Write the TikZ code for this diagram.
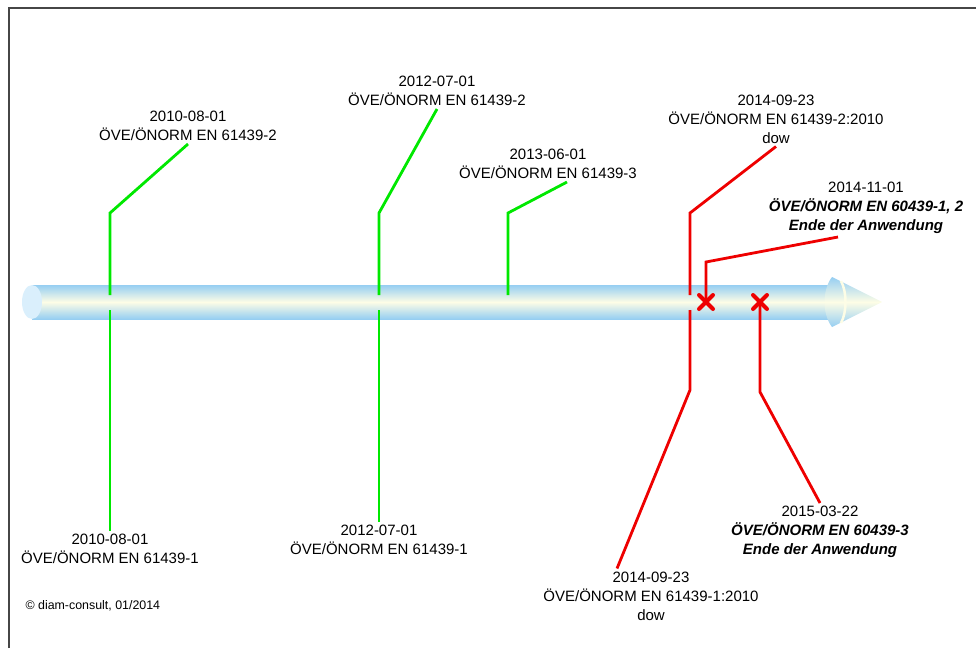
\documentclass[tikz,border=0pt]{standalone}
\usepackage{fontspec}
\setmainfont{Liberation Sans}
\usepackage{tikz}
\usetikzlibrary{calc}
\definecolor{tubeblue}{RGB}{150,206,242}
\definecolor{tubecream}{RGB}{253,253,230}
\definecolor{capblue}{RGB}{218,239,252}
\definecolor{markgreen}{RGB}{0,232,0}
\definecolor{markred}{RGB}{238,0,0}
\definecolor{framegray}{RGB}{70,70,70}

\begin{document}
\begin{tikzpicture}[x=1pt,y=-1pt]
        \tikzset{tag/.style={align=center, font=\fontsize{15}{19}\selectfont, inner sep=3pt},
                 greenline/.style={markgreen, line width=2.8pt},
                 redline/.style={markred, line width=2.8pt},
                 endmark/.style={markred, line width=4pt, line cap=round}}
        \useasboundingbox (0,0) rectangle (976,648);
        % frame
        \draw[framegray, line width=1.3pt] (9,648) -- (9,8) -- (976,8);
        
        % time tube
        \shade[top color=tubeblue, bottom color=tubeblue, middle color=tubecream] (32,285) rectangle (830,319);
        \fill[capblue] (32,302) ellipse [x radius=10, y radius=17];
        \shade[top color=tubeblue, bottom color=tubeblue, middle color=tubecream]
            (832,277) .. controls (822,290) and (822,314) .. (832,327) -- (882,302) -- cycle;
        \draw[tubecream, line width=2.5pt] (841,281) .. controls (847,292) and (847,312) .. (841,323);
        
        % labels above the tube
        \node[tag] (up1) at (188,126) {2010-08-01\\ÖVE/ÖNORM EN 61439-2};
        \node[tag] (up2) at (437,91) {2012-07-01\\ÖVE/ÖNORM EN 61439-2};
        \node[tag] (up3) at (548,164) {2013-06-01\\ÖVE/ÖNORM EN 61439-3};
        \node[tag] (up4) at (776,119) {2014-09-23\\ÖVE/ÖNORM EN 61439-2:2010\\dow};
        \node[tag] (up5) at (866,208) {2014-11-01\\\textbf{\textit{ÖVE/ÖNORM EN 60439-1, 2}}\\\textbf{\textit{Ende der Anwendung}}};
        
        % labels below the tube
        \node[tag] (lo1) at (110,549) {2010-08-01\\ÖVE/ÖNORM EN 61439-1};
        \node[tag] (lo2) at (379,540) {2012-07-01\\ÖVE/ÖNORM EN 61439-1};
        \node[tag] (lo4) at (651,596) {2014-09-23\\ÖVE/ÖNORM EN 61439-1:2010\\dow};
        \node[tag] (lo6) at (820,532) {2015-03-22\\\textbf{\textit{ÖVE/ÖNORM EN 60439-3}}\\\textbf{\textit{Ende der Anwendung}}};
        
        \node[anchor=west, font=\fontsize{12.4}{14}\selectfont] (copy) at (22,606) {© diam-consult, 01/2014};
        
        % bends and tube points
        \coordinate (b1) at (110,213); \coordinate (t1) at (110,295); \coordinate (s1) at (110,310);
        \coordinate (b2) at (379,213); \coordinate (t2) at (379,295); \coordinate (s2) at (379,310);
        \coordinate (b3) at (508,213); \coordinate (t3) at (508,295);
        \coordinate (b4) at (690,213); \coordinate (t4) at (690,295); \coordinate (s4) at (690,310);
        \coordinate (k4) at (690,390);
        \coordinate (b5) at (706,262); \coordinate (x5) at (706,302);
        \coordinate (x6) at (760,302); \coordinate (k6) at (760,392);
        
        % green markers
        \draw[greenline] (up1.south) -- (b1) -- (t1);
        \draw[greenline] (s1) -- (lo1.north);
        \draw[greenline] (up2.south) -- (b2) -- (t2);
        \draw[greenline] (s2) -- (lo2.north);
        \draw[greenline] ([xshift=19pt]up3.south) -- (b3) -- (t3);
        
        % red markers
        \draw[redline] (up4.south) -- (b4) -- (t4);
        \draw[redline] (s4) -- (k4) -- ([xshift=-34pt]lo4.north);
        \draw[redline] ([xshift=-28pt]up5.south) -- (b5) -- (x5);
        \draw[redline] (x6) -- (k6) -- (lo6.north);
        
        \draw[endmark] ($(x5)+(-7,-7)$) -- ($(x5)+(7,7)$);
        \draw[endmark] ($(x5)+(-7,7)$) -- ($(x5)+(7,-7)$);
        \draw[endmark] ($(x6)+(-7,-7)$) -- ($(x6)+(7,7)$);
        \draw[endmark] ($(x6)+(-7,7)$) -- ($(x6)+(7,-7)$);
\end{tikzpicture}
\end{document}
